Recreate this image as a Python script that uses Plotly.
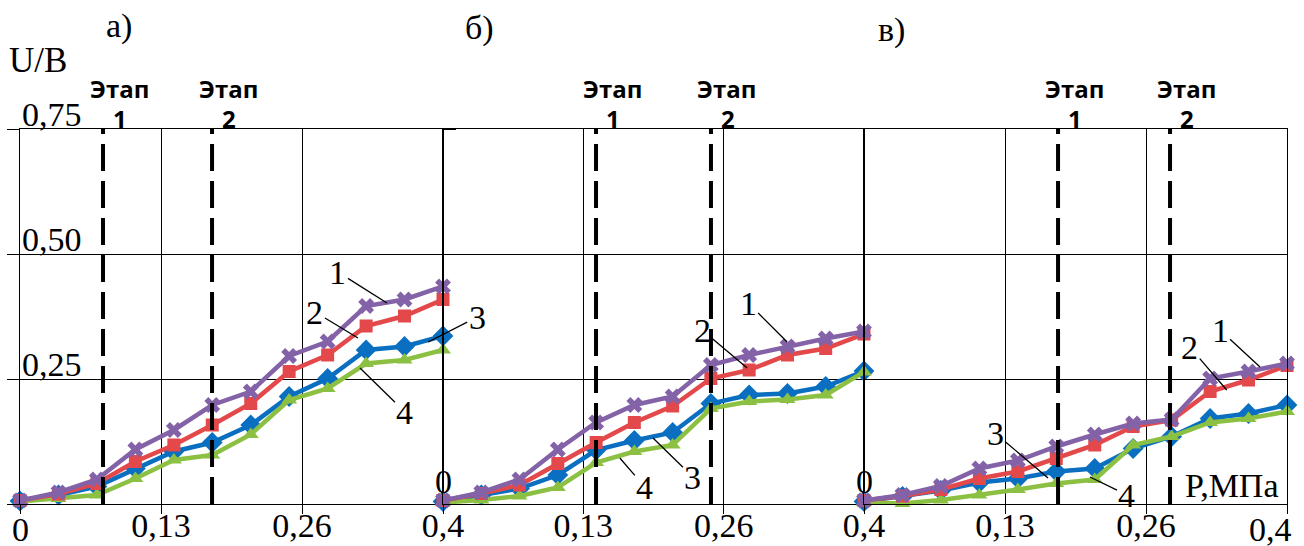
import plotly.graph_objects as go

# ---------------- data ----------------
n_points = 12
x_max = 0.4
x_vals = [round(i * x_max / (n_points - 1), 4) for i in range(n_points)]

# panel а)
a_s1 = [0.007, 0.023, 0.049, 0.109, 0.148, 0.198, 0.225, 0.296, 0.325, 0.396, 0.409, 0.435]
a_s2 = [0.007, 0.020, 0.041, 0.085, 0.118, 0.158, 0.201, 0.265, 0.298, 0.356, 0.376, 0.409]
a_s3 = [0.006, 0.018, 0.035, 0.071, 0.105, 0.123, 0.158, 0.215, 0.251, 0.308, 0.315, 0.336]
a_s4 = [0.005, 0.011, 0.018, 0.051, 0.088, 0.098, 0.139, 0.208, 0.231, 0.281, 0.288, 0.308]
# panel б)
b_s1 = [0.007, 0.023, 0.049, 0.109, 0.163, 0.198, 0.215, 0.278, 0.298, 0.315, 0.331, 0.345]
b_s2 = [0.007, 0.021, 0.038, 0.081, 0.123, 0.163, 0.196, 0.251, 0.268, 0.298, 0.311, 0.340]
b_s3 = [0.005, 0.018, 0.031, 0.058, 0.108, 0.127, 0.143, 0.201, 0.218, 0.221, 0.235, 0.266]
b_s4 = [0.003, 0.008, 0.016, 0.033, 0.083, 0.105, 0.118, 0.191, 0.205, 0.209, 0.218, 0.264]
# panel в)
c_s1 = [0.007, 0.018, 0.036, 0.071, 0.087, 0.115, 0.139, 0.161, 0.169, 0.251, 0.265, 0.281]
c_s2 = [0.007, 0.016, 0.029, 0.051, 0.065, 0.091, 0.118, 0.155, 0.168, 0.225, 0.248, 0.277]
c_s3 = [0.005, 0.015, 0.027, 0.043, 0.051, 0.065, 0.071, 0.111, 0.135, 0.171, 0.181, 0.198]
c_s4 = [0.003, 0.001, 0.008, 0.018, 0.029, 0.041, 0.049, 0.118, 0.135, 0.163, 0.171, 0.185]

panels = [
    ("x", [a_s1, a_s2, a_s3, a_s4]),
    ("x2", [b_s1, b_s2, b_s3, b_s4]),
    ("x3", [c_s1, c_s2, c_s3, c_s4]),
]

# stage (Этап) boundaries per panel
stage_lines = {"x": [0.0785, 0.1816], "x2": [0.1454, 0.2546], "x3": [0.1835, 0.2894]}
stage_word = "Этап"

x_tickvals = [0, x_max / 3, 2 * x_max / 3, x_max]
x_ticktext_a = ["", "0,13", "0,26", "0,4"]
x_ticktext_b = ["", "0,13", "0,26", "0,4"]
x_ticktext_c = ["", "0,13", "0,26", ""]
y_tickvals = [0, 0.25, 0.5, 0.75]
y_ticktext = ["", "0,25", "0,50", "0,75"]

panel_titles = ["а)", "б)", "в)"]

# series styles: 1 purple X, 2 red square, 3 blue diamond, 4 green triangle
styles = {
    0: dict(color="#8462A8", symbol="x", size=14),
    1: dict(color="#E3494B", symbol="square", size=13),
    2: dict(color="#0A6FC0", symbol="diamond", size=16),
    3: dict(color="#8CC043", symbol="triangle-up", size=14),
}
draw_order = [2, 3, 1, 0]

# ---------------- figure ----------------
W, H = 1304, 546
ML, MR, MT, MB = 20, 17, 129, 42
PW = W - ML - MR
PH = H - MT - MB

def px(xp):
    return (xp - ML) / PW

def py(yp):
    return (H - MB - yp) / PH

serif = "Liberation Serif, Times New Roman, serif"
bold_sans = "Open Sans, Noto Sans, sans-serif"
blk = "black"

fig = go.Figure()
for xref, series in panels:
    for idx in draw_order:
        st = styles[idx]
        fig.add_trace(go.Scatter(
            x=x_vals, y=series[idx], xaxis=xref, yaxis="y",
            mode="lines+markers",
            line=dict(color=st["color"], width=4.5),
            marker=dict(color=st["color"], symbol=st["symbol"], size=st["size"],
                        line=dict(width=0)),
            showlegend=False, cliponaxis=False,
        ))

d1 = (443 - ML) / PW
d2 = (864 - ML) / PW
common_x = dict(range=[0, x_max], tickvals=x_tickvals, showgrid=True, gridcolor=blk,
                gridwidth=1.3, ticks="outside", ticklen=9, tickcolor=blk, tickwidth=1.3,
                zeroline=False, showline=True, linecolor=blk, linewidth=1.3, mirror=True,
                anchor="y", automargin=False, ticklabelstandoff=-18,
                tickfont=dict(family=serif, size=34, color=blk))
fig.update_layout(
    width=W, height=H,
    margin=dict(l=ML, r=MR, t=MT, b=MB),
    paper_bgcolor="white", plot_bgcolor="white",
    xaxis=dict(domain=[0, d1], ticktext=x_ticktext_a, **common_x),
    xaxis2=dict(domain=[d1, d2], ticktext=x_ticktext_b, **common_x),
    xaxis3=dict(domain=[d2, 1], ticktext=x_ticktext_c, **common_x),
    yaxis=dict(range=[0, 0.75], tickvals=y_tickvals, showticklabels=False,
               showgrid=True, gridcolor=blk, gridwidth=1.3, zeroline=False,
               showline=True, linecolor=blk, linewidth=1.3, mirror="all",
               ticks="outside", ticklen=12, tickcolor=blk, tickwidth=1.3,
               automargin=False),
)

# y tick labels (above their grid lines, inside panel а)
for yv, yt in zip(y_tickvals, y_ticktext):
    if yt:
        fig.add_annotation(xref="x", yref="y", x=0, y=yv, xanchor="left", yanchor="bottom",
                           xshift=0, yshift=-6, showarrow=False, text=yt,
                           font=dict(family=serif, size=34, color=blk))

# stage dashed lines and labels
for xref, xs in stage_lines.items():
    for k, xv in enumerate(xs):
        fig.add_shape(type="line", xref=xref, yref="y", x0=xv, x1=xv, y0=0, y1=0.755,
                      line=dict(color=blk, width=4, dash="27px,10px"))
        fig.add_annotation(xref=xref, yref="y", x=xv, y=0.75, xshift=16, yshift=41,
                           xanchor="center", yanchor="middle", showarrow=False,
                           text=f"<b>{stage_word}</b>",
                           font=dict(family=bold_sans, size=24, color=blk))
        fig.add_annotation(xref=xref, yref="y", x=xv, y=0.75, xshift=17, yshift=11,
                           xanchor="center", yanchor="middle", showarrow=False,
                           text=f"<b>{k + 1}</b>",
                           font=dict(family=bold_sans, size=24, color=blk))

# panel titles
title_pos = [(119, 26), (479, 28), (891, 30)]
for t, (xp, yp) in zip(panel_titles, title_pos):
    fig.add_annotation(xref="paper", yref="paper", x=px(xp), y=py(yp), showarrow=False,
                       xanchor="center", yanchor="middle",
                       text=t, font=dict(family=serif, size=34, color=blk))

# axis names
fig.add_annotation(xref="paper", yref="paper", x=px(38), y=py(60), showarrow=False,
                   xanchor="center", yanchor="middle",
                   text="U/B", font=dict(family=serif, size=35, color=blk))
fig.add_annotation(xref="x3", yref="y", x=0.348, y=0.038, showarrow=False,
                   xanchor="center", yanchor="middle",
                   text="P,МПа", font=dict(family=serif, size=34, color=blk))

# "0" labels at panel starts and bottom "0"/last "0,4"
for xref in ["x2", "x3"]:
    fig.add_annotation(xref=xref, yref="y", x=0, y=0, xanchor="center", yanchor="bottom",
                       yshift=2, showarrow=False, text="0",
                       font=dict(family=serif, size=34, color=blk))
fig.add_annotation(xref="x", yref="paper", x=0, y=0, xanchor="center", yanchor="top",
                   yshift=-5, showarrow=False, text="0",
                   font=dict(family=serif, size=34, color=blk))
fig.add_annotation(xref="x3", yref="paper", x=x_max, y=0, xshift=-17, xanchor="center",
                   yanchor="top", yshift=-5, showarrow=False, text="0,4",
                   font=dict(family=serif, size=34, color=blk))

# series number labels with leader lines: (axis, label, tip_x, tip_y, ax, ay)
leaders = [
    ("x", "1", 0.347, 0.402, -49, -31),
    ("x", "2", 0.3196, 0.332, -43, -26),
    ("x", "3", 0.386, 0.324, 49, -25),
    ("x", "4", 0.3215, 0.272, 45, 44),
    ("x2", "1", 0.327, 0.324, -39, -39),
    ("x2", "2", 0.289, 0.272, -45, -38),
    ("x2", "3", 0.1995, 0.132, 40, 39),
    ("x2", "4", 0.168, 0.092, 25, 29),
    ("x3", "1", 0.3745, 0.274, -40, -37),
    ("x3", "2", 0.343, 0.228, -37, -43),
    ("x3", "3", 0.174, 0.052, -53, -45),
    ("x3", "4", 0.2137, 0.054, 37, 18),
]
for xref, lab, tx, ty, ax, ay in leaders:
    fig.add_annotation(xref=xref, yref="y", x=tx, y=ty, ax=ax, ay=ay, text=lab,
                       showarrow=True, arrowhead=0, arrowwidth=1.3, arrowcolor=blk,
                       standoff=0, font=dict(family=serif, size=34, color=blk))

fig.write_html("out.html", config={"displayModeBar": False},
               post_script="document.body.style.margin='0px';")
